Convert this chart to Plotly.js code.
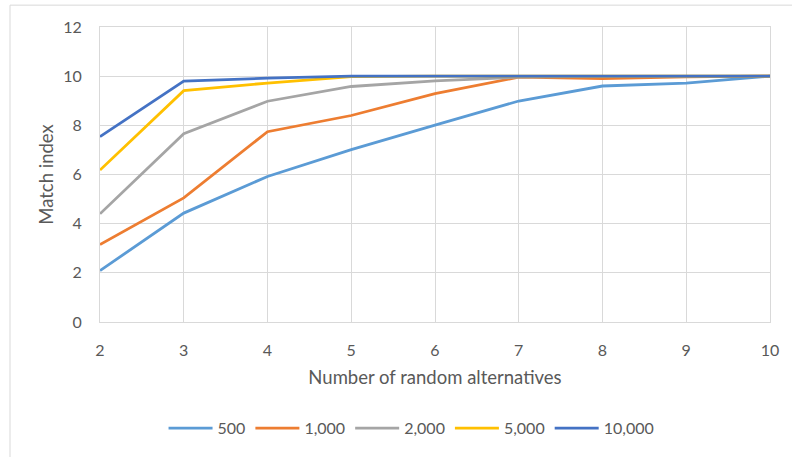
<!DOCTYPE html>
<html>
<head>
<meta charset="utf-8">
<script src="https://cdn.plot.ly/plotly-3.0.1.min.js"></script>
<style>
  html, body { margin: 0; padding: 0; background: #ffffff; }
  #chart { width: 792px; height: 457px; }
</style>
</head>
<body>
<div id="chart"></div>
<script>
// Number of random alternatives on the x axis
const alternatives = [2, 3, 4, 5, 6, 7, 8, 9, 10];

// Match index for each sample size
const series500   = [2.09, 4.43, 5.92, 7.01, 8.01, 8.99, 9.60, 9.72, 10.0];
const series1000  = [3.15, 5.05, 7.74, 8.40, 9.29, 9.96, 9.90, 9.97, 10.0];
const series2000  = [4.40, 7.66, 8.98, 9.58, 9.81, 9.96, 9.99, 10.0, 10.0];
const series5000  = [6.18, 9.41, 9.72, 9.98, 10.0, 10.0, 10.0, 10.0, 10.0];
const series10000 = [7.54, 9.80, 9.92, 10.0, 10.0, 10.0, 10.0, 10.0, 10.0];

const seriesNames = ['500', '1,000', '2,000', '5,000', '10,000'];
const seriesColors = ['#5B9BD5', '#ED7D31', '#A5A5A5', '#FFC000', '#4472C4'];
const seriesValues = [series500, series1000, series2000, series5000, series10000];

const yTicks = [0, 2, 4, 6, 8, 10, 12];
const xTicks = alternatives;

const traces = seriesValues.map((vals, i) => ({
  type: 'scatter',
  mode: 'lines',
  x: alternatives,
  y: vals,
  name: seriesNames[i],
  line: { color: seriesColors[i], width: 2.8 },
  hoverinfo: 'x+y+name'
}));

const margin = { l: 100, r: 22, t: 27, b: 133 };
const W = 792, H = 457;
const pw = W - margin.l - margin.r;
const ph = H - margin.t - margin.b;

const family = 'Lato, "Liberation Sans", sans-serif';
const grey = '#595959';

const layout = {
  width: W,
  height: H,
  margin: margin,
  paper_bgcolor: '#ffffff',
  plot_bgcolor: '#ffffff',
  font: { family: family, size: 16, color: grey },
  showlegend: true,
  legend: {
    orientation: 'h',
    x: 0.465,
    xanchor: 'center',
    y: -(431 - (margin.t + ph)) / ph,
    yanchor: 'middle',
    font: { family: family, size: 16, color: grey },
    itemwidth: 44,
    traceorder: 'normal'
  },
  xaxis: {
    range: [2, 10],
    tickvals: xTicks,
    ticktext: xTicks.map(String),
    showgrid: true,
    gridcolor: '#d9d9d9',
    gridwidth: 1,
    zeroline: false,
    showline: true,
    linecolor: '#d9d9d9',
    linewidth: 1,
    mirror: true,
    ticks: '',
    ticklabelstandoff: 14,
    tickfont: { family: family, size: 16, color: grey },
    title: {
      text: 'Number of random alternatives',
      font: { family: family, size: 18.5, color: grey },
      standoff: 12
    }
  },
  yaxis: {
    range: [0, 12],
    tickvals: yTicks,
    ticktext: yTicks.map(String),
    showgrid: true,
    gridcolor: '#d9d9d9',
    gridwidth: 1,
    zeroline: false,
    showline: true,
    linecolor: '#d9d9d9',
    linewidth: 1,
    mirror: true,
    ticks: '',
    ticklabelstandoff: 14,
    tickfont: { family: family, size: 16, color: grey },
    title: {
      text: 'Match index',
      font: { family: family, size: 18.5, color: grey },
      standoff: 4
    }
  },
  shapes: [{
    // outer chart-area frame
    type: 'rect',
    xref: 'paper', yref: 'paper',
    x0: (10 - margin.l) / pw,
    x1: (W + 5 - margin.l) / pw,
    y0: -(H + 5 - margin.t - ph) / ph,
    y1: 1 + (margin.t - 5) / ph,
    line: { color: '#d9d9d9', width: 1 },
    fillcolor: 'rgba(0,0,0,0)',
    layer: 'below'
  }]
};

Plotly.newPlot('chart', traces, layout, { displayModeBar: false, staticPlot: true });
</script>
</body>
</html>
